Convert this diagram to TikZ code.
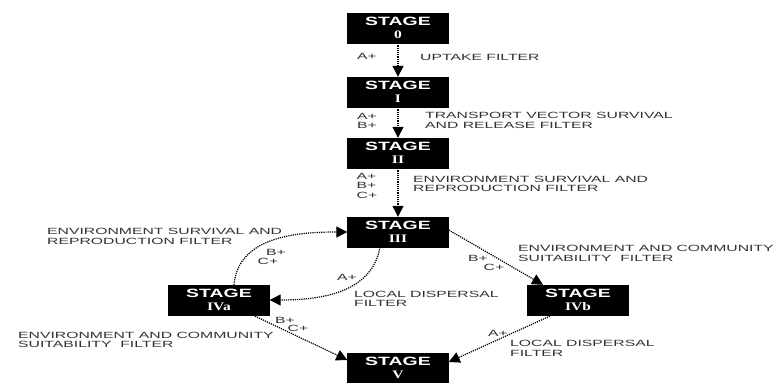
\documentclass[tikz,border=0pt]{standalone}
\usepackage{fontspec}
\setmainfont{Liberation Sans}
\newfontfamily\numfont{Liberation Serif}
\usetikzlibrary{arrows.meta}
\newcommand{\stretchtxt}[1]{\scalebox{1.75}[1]{#1}}
\newcommand{\stg}[1]{\scalebox{1.62}[1]{\fontsize{12}{12}\selectfont\bfseries STAGE}\\[2pt]\scalebox{1.35}[1]{\fontsize{11.5}{11.5}\selectfont\numfont\bfseries #1}}
\begin{document}
\begin{tikzpicture}[x=1pt,y=-1pt,
  stagebox/.style={fill=black, draw=black, minimum width=101pt, minimum height=30pt, inner sep=0pt, text=white, align=center, font=\fontsize{10}{11}\selectfont},
  lbl/.style={font=\fontsize{9}{9.5}\selectfont, text=black!80, inner sep=0pt, align=left},
  conn/.style={densely dotted, line width=1.2pt, -{Triangle[length=11pt,width=11pt]}}]
\useasboundingbox (0,0) rectangle (780,383);
\fill[white] (0,0) rectangle (780,383);
% stages
\node[stagebox] (s0) at (398,28) {\stg{0}};
\node[stagebox] (s1) at (398,92) {\stg{I}};
\node[stagebox] (s2) at (398,153) {\stg{II}};
\node[stagebox] (s3) at (398,232) {\stg{III}};
\node[stagebox] (s4a) at (219,300) {\stg{IVa}};
\node[stagebox] (s4b) at (578,300) {\stg{IVb}};
\node[stagebox] (s5) at (398,368) {\stg{V}};
% connectors
\draw[conn] (s0) -- (s1);
\draw[conn] (s1) -- (s2);
\draw[conn] (s2) -- (s3);
\draw[conn] ([xshift=15pt]s4a.north) to[out=85,in=180] (s3.west);
\draw[conn] ([xshift=-18pt]s3.south) to[out=-100,in=0] (s4a.east);
\draw[conn] ([yshift=2pt]s3.east) -- ([xshift=-35pt]s4b.north);
\draw[conn] ([xshift=34pt]s4a.south) -- ([yshift=8pt]s5.west);
\draw[conn] ([xshift=-26pt]s4b.south) -- ([yshift=6pt]s5.east);
% labels
\node[lbl] (l0a) at (367,56) {\stretchtxt{A+}};
\node[lbl, anchor=west] (l0t) at (420,57) {\stretchtxt{UPTAKE FILTER}};
\node[lbl] (l1a) at (367,122) {\stretchtxt{\begin{tabular}{@{}l@{}}A+\\B+\end{tabular}}};
\node[lbl, anchor=west] (l1t) at (425,121.5) {\stretchtxt{\begin{tabular}{@{}l@{}}TRANSPORT VECTOR SURVIVAL\\AND RELEASE FILTER\end{tabular}}};
\node[lbl] (l2a) at (367,187) {\stretchtxt{\begin{tabular}{@{}l@{}}A+\\B+\\C+\end{tabular}}};
\node[lbl, anchor=west] (l2t) at (413,185) {\stretchtxt{\begin{tabular}{@{}l@{}}ENVIRONMENT SURVIVAL AND\\REPRODUCTION FILTER\end{tabular}}};
\node[lbl, anchor=west] (l3t) at (47,237.5) {\stretchtxt{\begin{tabular}{@{}l@{}}ENVIRONMENT SURVIVAL AND\\REPRODUCTION FILTER\end{tabular}}};
\node[lbl] (l3b) at (276,252) {\stretchtxt{B+}};
\node[lbl] (l3c) at (268,261) {\stretchtxt{C+}};
\node[lbl] (l4a) at (347,277) {\stretchtxt{A+}};
\node[lbl, anchor=west] (l4t) at (354,300) {\stretchtxt{\begin{tabular}{@{}l@{}}LOCAL DISPERSAL\\FILTER\end{tabular}}};
\node[lbl] (l5b) at (478,258) {\stretchtxt{B+}};
\node[lbl] (l5c) at (494,267) {\stretchtxt{C+}};
\node[lbl, anchor=west] (l5t) at (518,254.5) {\stretchtxt{\begin{tabular}{@{}l@{}}ENVIRONMENT AND COMMUNITY\\SUITABILITY\ \ FILTER\end{tabular}}};
\node[lbl] (l6b) at (285,320) {\stretchtxt{B+}};
\node[lbl] (l6c) at (298,328) {\stretchtxt{C+}};
\node[lbl, anchor=west] (l6t) at (18,341) {\stretchtxt{\begin{tabular}{@{}l@{}}ENVIRONMENT AND COMMUNITY\\SUITABILITY\ \ FILTER\end{tabular}}};
\node[lbl] (l7a) at (498,333) {\stretchtxt{A+}};
\node[lbl, anchor=west] (l7t) at (510,349.5) {\stretchtxt{\begin{tabular}{@{}l@{}}LOCAL DISPERSAL\\FILTER\end{tabular}}};
\end{tikzpicture}
\end{document}
